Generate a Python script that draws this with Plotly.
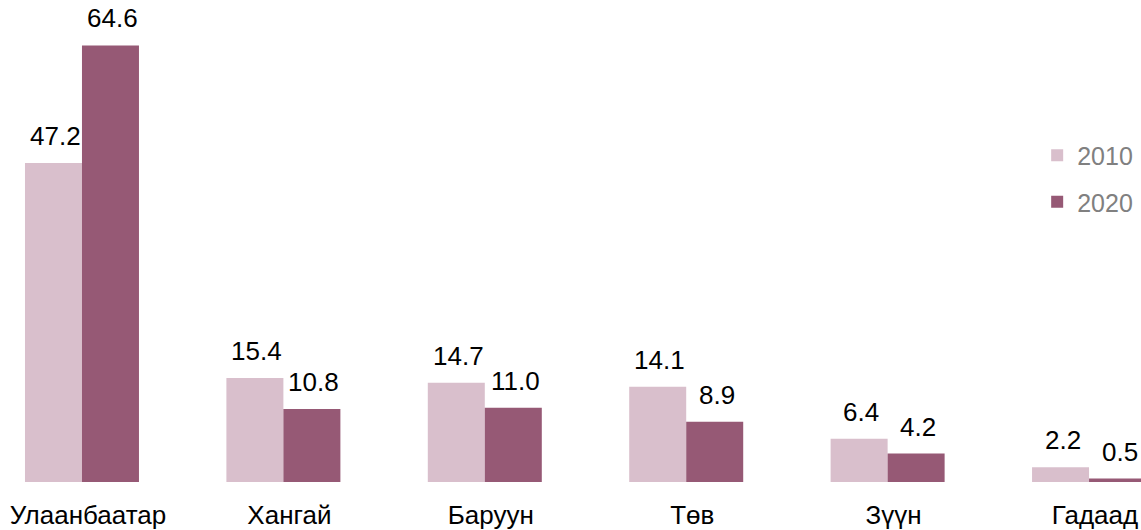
import plotly.graph_objects as go

regions = ["Улаанбаатар", "Хангай", "Баруун", "Төв", "Зүүн", "Гадаад"]
values_2010 = [47.2, 15.4, 14.7, 14.1, 6.4, 2.2]
values_2020 = [64.6, 10.8, 11.0, 8.9, 4.2, 0.5]

COLOR_2010 = "#d9bfcc"
COLOR_2020 = "#965975"
FONT = "Liberation Sans, Arial, sans-serif"
BAR_HALF = 28.5  # half bar width in px, for value labels

fig = go.Figure()

fig.add_trace(go.Bar(
    name="2010",
    x=regions,
    y=values_2010,
    marker_color=COLOR_2010,
    legendgroup="a",
))
fig.add_trace(go.Bar(
    name="2020",
    x=regions,
    y=values_2020,
    marker_color=COLOR_2020,
    legendgroup="b",
))
fig.update_traces(marker_line_width=0)

# value labels above the bars
for vals, shift in [(values_2010, -BAR_HALF), (values_2020, BAR_HALF)]:
    for r, v in zip(regions, vals):
        fig.add_annotation(
            x=r, y=v, text=f"{v:.1f}",
            xref="x", yref="y",
            xshift=shift + 2, yshift=10,
            yanchor="bottom", showarrow=False,
            font=dict(size=26, color="black", family=FONT),
        )

fig.update_layout(
    width=1141,
    height=530,
    margin=dict(l=0, r=0, t=0, b=43),
    barmode="group",
    bargap=0.434,
    bargroupgap=0,
    plot_bgcolor="white",
    paper_bgcolor="white",
    font=dict(family=FONT, size=24, color="black"),
    xaxis=dict(
        range=[-0.407, 5.258],
        showgrid=False,
        showline=False,
        zeroline=False,
        ticks="outside",
        ticklen=10,
        tickcolor="rgba(0,0,0,0)",
        ticklabelshift=6,
        tickfont=dict(size=26, color="black"),
    ),
    yaxis=dict(
        range=[0, 71.33],
        visible=False,
    ),
    legend=dict(
        x=0.909,
        y=0.725,
        xanchor="left",
        yanchor="top",
        font=dict(size=25, color="#808080"),
        traceorder="grouped",
        tracegroupgap=11,
        itemwidth=30,
        bgcolor="rgba(0,0,0,0)",
    ),
)

fig.write_html(
    "out.html",
    config={"displayModeBar": False},
    post_script="document.body.style.margin='0';",
)
